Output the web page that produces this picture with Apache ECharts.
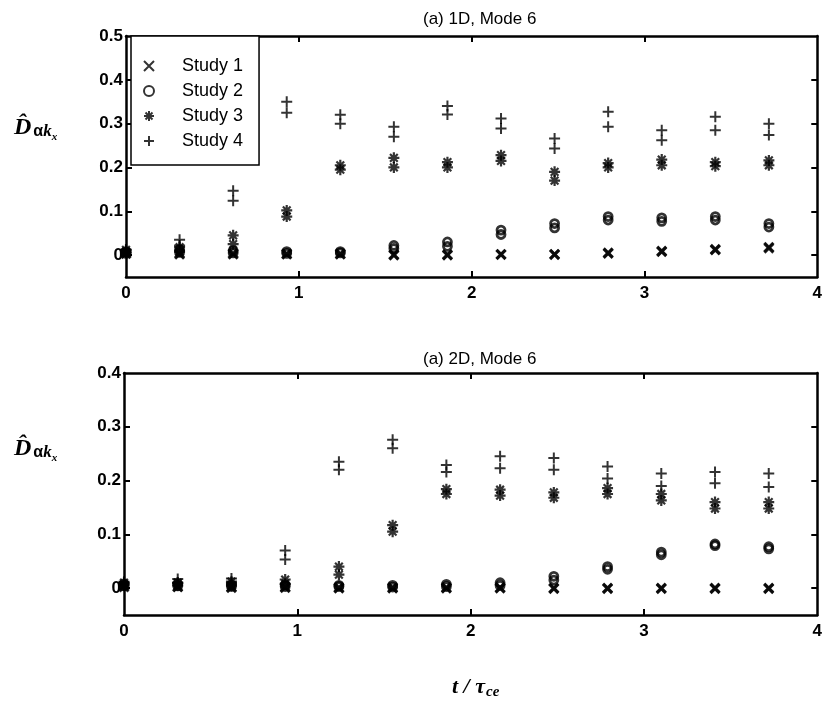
<!DOCTYPE html>
<html><head><meta charset="utf-8">
<script src="https://cdn.jsdelivr.net/npm/echarts@6/dist/echarts.min.js"></script>
<style>html,body{margin:0;padding:0;background:#fff}#c{width:825px;height:701px}</style>
</head><body><div id="c"></div>
<script>
// x positions (t / tau_ce)
var times = [0, 0.31, 0.62, 0.93, 1.24, 1.55, 1.86, 2.17, 2.48, 2.79, 3.10, 3.41, 3.72];
var xTicks = [0, 1, 2, 3, 4];
var yTicks1D = [0, 0.1, 0.2, 0.3, 0.4, 0.5];
var yTicks2D = [0, 0.1, 0.2, 0.3, 0.4];
var studyNames = ['Study 1', 'Study 2', 'Study 3', 'Study 4'];
var panelTitles = ['(a) 1D, Mode 6', '(a) 2D, Mode 6'];

// 1D, Mode 6 (two overlapping runs per study)
var study1_1D_a = [0.005, 0.004, 0.004, 0.003, 0.003, 0.001, 0.001, 0.002, 0.002, 0.005, 0.009, 0.013, 0.018];
var study1_1D_b = [0.003, 0.002, 0.002, 0.002, 0.002, 0.000, 0.000, 0.001, 0.001, 0.004, 0.008, 0.012, 0.016];
var study2_1D_a = [0.008, 0.012, 0.010, 0.008, 0.008, 0.022, 0.030, 0.057, 0.072, 0.088, 0.085, 0.088, 0.072];
var study2_1D_b = [0.004, 0.006, 0.005, 0.004, 0.005, 0.015, 0.020, 0.047, 0.062, 0.080, 0.077, 0.080, 0.064];
var study3_1D_a = [0.012, 0.018, 0.045, 0.102, 0.205, 0.222, 0.212, 0.228, 0.190, 0.210, 0.218, 0.212, 0.216];
var study3_1D_b = [0.006, 0.008, 0.025, 0.088, 0.195, 0.200, 0.200, 0.215, 0.170, 0.200, 0.205, 0.203, 0.205];
var study4_1D_a = [0.012, 0.035, 0.147, 0.350, 0.320, 0.293, 0.340, 0.312, 0.266, 0.327, 0.285, 0.316, 0.300];
var study4_1D_b = [0.006, 0.022, 0.124, 0.325, 0.300, 0.270, 0.321, 0.289, 0.243, 0.293, 0.262, 0.285, 0.274];

// 2D, Mode 6
var study1_2D_a = [0.004, 0.003, 0.002, 0.002, 0.001, 0.001, 0.001, 0.001, 0.000, 0.000, 0.000, 0.000, 0.000];
var study1_2D_b = [0.002, 0.002, 0.001, 0.001, 0.000, 0.000, 0.000, 0.000, -0.001, -0.001, -0.001, -0.001, -0.001];
var study2_2D_a = [0.008, 0.008, 0.006, 0.006, 0.005, 0.005, 0.007, 0.010, 0.022, 0.040, 0.067, 0.082, 0.077];
var study2_2D_b = [0.004, 0.004, 0.003, 0.003, 0.003, 0.002, 0.003, 0.005, 0.015, 0.035, 0.062, 0.079, 0.073];
var study3_2D_a = [0.010, 0.010, 0.012, 0.016, 0.040, 0.117, 0.184, 0.183, 0.178, 0.186, 0.175, 0.160, 0.160];
var study3_2D_b = [0.005, 0.005, 0.005, 0.008, 0.025, 0.105, 0.175, 0.172, 0.168, 0.175, 0.163, 0.148, 0.148];
var study4_2D_a = [0.012, 0.017, 0.018, 0.070, 0.235, 0.276, 0.229, 0.245, 0.242, 0.226, 0.213, 0.216, 0.213];
var study4_2D_b = [0.007, 0.010, 0.010, 0.053, 0.220, 0.260, 0.216, 0.223, 0.220, 0.204, 0.190, 0.195, 0.188];

var FONT = 'Liberation Sans';
var symX = 'path://M0,0L10,10M10,0L0,10';
var symPlus = 'path://M5,0L5,10M0,5L10,5';
var symStar = 'path://M5,0L5,10M0,5L10,5M1.5,1.5L8.5,8.5M8.5,1.5L1.5,8.5';
var symbols = [symX, 'circle', symStar, symPlus];
var sizes = [9, 8, 11, 11];
var widths = [3, 2.8, 2.2, 2];

function pairs(a, b) {
  var out = [];
  for (var i = 0; i < times.length; i++) {
    out.push([times[i], a[i]]);
    out.push([times[i], b[i]]);
  }
  return out;
}
var data1D = [pairs(study1_1D_a, study1_1D_b), pairs(study2_1D_a, study2_1D_b), pairs(study3_1D_a, study3_1D_b), pairs(study4_1D_a, study4_1D_b)];
var data2D = [pairs(study1_2D_a, study1_2D_b), pairs(study2_2D_a, study2_2D_b), pairs(study3_2D_a, study3_2D_b), pairs(study4_2D_a, study4_2D_b)];

var series = [];
[data1D, data2D].forEach(function (set, p) {
  set.forEach(function (d, k) {
    series.push({
      name: studyNames[k], type: 'scatter', xAxisIndex: p * 2, yAxisIndex: p * 2,
      data: d, symbol: symbols[k], symbolSize: sizes[k], clip: false,
      itemStyle: { color: 'rgba(0,0,0,0)', borderColor: '#000', borderWidth: widths[k] },
      emphasis: { disabled: true }, z: 3
    });
  });
});

function xAx(grid, pos, showLabel) {
  return {
    type: 'value', gridIndex: grid, position: pos, min: 0, max: 4, interval: 1,
    axisLine: { show: true, onZero: false, lineStyle: { color: '#000', width: 2.5 } },
    axisTick: { show: true, inside: true, length: 6, lineStyle: { color: '#000', width: 2 }, customValues: [1, 2, 3] },
    axisLabel: { show: showLabel, color: '#000', fontSize: 17, fontWeight: 'bold', fontFamily: FONT, margin: 8, customValues: xTicks },
    splitLine: { show: false }
  };
}
function yAx(grid, pos, max, ticks, showLabel) {
  return {
    type: 'value', gridIndex: grid, position: pos, min: -0.05, max: max,
    axisLine: { show: true, onZero: false, lineStyle: { color: '#000', width: 2.5 } },
    axisTick: { show: true, inside: true, length: 6, lineStyle: { color: '#000', width: 2 }, customValues: ticks.slice(0, ticks.length - 1) },
    axisLabel: { show: showLabel, color: '#000', fontSize: 17, fontWeight: 'bold', fontFamily: FONT, margin: 3, customValues: ticks,
      formatter: function (v) { return v === 0 ? '0' : v.toFixed(1); } },
    splitLine: { show: false }
  };
}

var yNameRich = {
  D: { fontFamily: 'Liberation Serif', fontStyle: 'italic', fontWeight: 'bold', fontSize: 24, color: '#000' },
  a: { fontFamily: 'Liberation Sans', fontWeight: 'bold', fontSize: 16, color: '#000', padding: [8, 0, 0, 2] },
  k: { fontFamily: 'Liberation Serif', fontStyle: 'italic', fontWeight: 'bold', fontSize: 17, color: '#000', padding: [8, 0, 0, 0] },
  s: { fontFamily: 'Liberation Serif', fontStyle: 'italic', fontWeight: 'bold', fontSize: 11, color: '#000', padding: [18, 0, 0, 0] }
};
var yNameText = '{D|D\u0302}{a|\u03b1}{k|k}{s|x}';

var chart = echarts.init(document.getElementById('c'), null, { renderer: 'canvas' });
chart.setOption({
  animation: false,
  backgroundColor: '#fff',
  title: [
    { text: panelTitles[0], left: 418, top: 6, textStyle: { fontSize: 17, fontWeight: 'normal', fontFamily: FONT, color: '#000' } },
    { text: panelTitles[1], left: 418, top: 346, textStyle: { fontSize: 17, fontWeight: 'normal', fontFamily: FONT, color: '#000' } }
  ],
  grid: [
    { left: 126, top: 36, width: 695, height: 241, show: false },
    { left: 124, top: 373, width: 696, height: 242, show: false }
  ],
  xAxis: [xAx(0, 'bottom', true), xAx(0, 'top', false), xAx(1, 'bottom', true), xAx(1, 'top', false)],
  yAxis: [yAx(0, 'left', 0.5, yTicks1D, true), yAx(0, 'right', 0.5, yTicks1D, false),
          yAx(1, 'left', 0.4, yTicks2D, true), yAx(1, 'right', 0.4, yTicks2D, false)],
  legend: {
    left: 131, top: 36, orient: 'vertical',
    data: studyNames.map(function (n, k) { return { name: n, icon: symbols[k] }; }),
    itemWidth: 10, itemHeight: 10, itemGap: 7,
    padding: [21, 16, 15, 12],
    borderColor: '#000', borderWidth: 1.5, backgroundColor: '#fff',
    textStyle: { fontSize: 18, fontFamily: FONT, color: '#000', padding: [0, 0, 0, 23] },
    selectedMode: false, z: 10
  },
  graphic: [
    { type: 'text', left: 14, top: 116, style: { text: yNameText, rich: yNameRich } },
    { type: 'text', left: 14, top: 437, style: { text: yNameText, rich: yNameRich } },
    { type: 'text', left: 452, top: 676, style: { text: '{t|t / \u03c4}{c|ce}', rich: {
      t: { fontFamily: 'Liberation Serif', fontStyle: 'italic', fontWeight: 'bold', fontSize: 22, color: '#000' },
      c: { fontFamily: 'Liberation Serif', fontStyle: 'italic', fontWeight: 'bold', fontSize: 15, color: '#000', padding: [11, 0, 0, 1] }
    } } }
  ],
  series: series
});
</script></body></html>
